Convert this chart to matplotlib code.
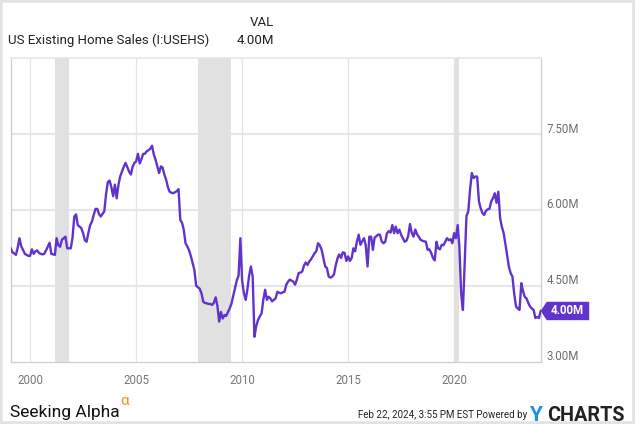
import numpy as np
import pandas as pd
import matplotlib
matplotlib.use("Agg")
import matplotlib.pyplot as plt
from matplotlib.patches import Polygon, Rectangle
from matplotlib.transforms import IdentityTransform, ScaledTranslation

plt.rcParams['font.family'] = ['Roboto', 'DejaVu Sans']

# ---- data (millions, SAAR), monthly Jan 1999 .. Jan 2024 ----
sales_1999 = [5.24, 5.16, 5.14, 5.11, 5.25, 5.44, 5.28, 5.21, 5.13, 5.11, 5.09, 5.09]
sales_2000 = [5.22, 5.13, 5.18, 5.20, 5.15, 5.13, 5.12, 5.13, 5.20, 5.27, 5.35, 5.13]
sales_2001 = [5.12, 5.11, 5.44, 5.30, 5.27, 5.41, 5.44, 5.47, 5.24, 5.24, 5.24, 5.45]
sales_2002 = [5.87, 5.91, 5.70, 5.67, 5.64, 5.54, 5.40, 5.37, 5.55, 5.70, 5.77, 5.90]
sales_2003 = [6.02, 6.02, 5.92, 5.87, 5.92, 5.97, 6.30, 6.55, 6.58, 6.45, 6.27, 6.50]
sales_2004 = [6.23, 6.50, 6.66, 6.76, 6.85, 6.93, 6.85, 6.76, 6.70, 6.85, 6.93, 6.96]
sales_2005 = [7.11, 6.92, 7.00, 7.11, 7.11, 7.16, 7.18, 7.21, 7.27, 7.10, 6.99, 6.86]
sales_2006 = [6.73, 6.86, 6.84, 6.70, 6.60, 6.45, 6.36, 6.34, 6.33, 6.35, 6.37, 6.41]
sales_2007 = [5.80, 5.74, 5.61, 5.34, 5.28, 5.20, 5.09, 4.95, 4.81, 4.50, 4.47, 4.44]
sales_2008 = [4.35, 4.18, 4.16, 4.15, 4.14, 4.14, 4.12, 4.16, 4.27, 4.10, 3.79, 3.98]
sales_2009 = [3.85, 3.92, 3.90, 3.98, 4.05, 4.15, 4.30, 4.45, 4.61, 4.70, 5.44, 4.60]
sales_2010 = [4.35, 4.22, 4.42, 4.70, 4.88, 4.68, 3.49, 3.70, 3.82, 3.89, 3.95, 4.22]
sales_2011 = [4.42, 4.22, 4.28, 4.25, 4.19, 4.22, 4.25, 4.38, 4.36, 4.35, 4.37, 4.38]
sales_2012 = [4.52, 4.58, 4.62, 4.60, 4.58, 4.52, 4.62, 4.75, 4.76, 4.78, 4.90, 4.96]
sales_2013 = [4.91, 4.98, 5.02, 5.08, 5.14, 5.18, 5.34, 5.30, 5.21, 5.05, 4.88, 4.85]
sales_2014 = [4.68, 4.66, 4.68, 4.72, 4.90, 5.04, 5.12, 5.05, 5.16, 5.15, 4.99, 5.08]
sales_2015 = [4.99, 5.05, 5.24, 5.18, 5.37, 5.51, 5.31, 5.38, 5.44, 5.30, 4.88, 5.47]
sales_2016 = [5.47, 5.21, 5.45, 5.48, 5.51, 5.51, 5.38, 5.34, 5.37, 5.54, 5.58, 5.55]
sales_2017 = [5.70, 5.54, 5.67, 5.54, 5.61, 5.51, 5.44, 5.37, 5.39, 5.48, 5.72, 5.55]
sales_2018 = [5.47, 5.61, 5.52, 5.47, 5.41, 5.39, 5.38, 5.37, 5.21, 5.22, 5.15, 5.05]
sales_2019 = [5.00, 5.37, 5.24, 5.22, 5.31, 5.30, 5.37, 5.44, 5.40, 5.42, 5.34, 5.54]
sales_2020 = [5.44, 5.70, 5.27, 4.33, 4.02, 4.95, 5.88, 5.97, 6.40, 6.73, 6.63, 6.66]
sales_2021 = [6.66, 6.17, 6.04, 5.94, 5.90, 5.98, 6.01, 6.02, 6.17, 6.23, 6.33, 6.14]
sales_2022 = [6.36, 5.84, 5.67, 5.55, 5.34, 5.10, 4.88, 4.75, 4.68, 4.35, 4.09, 4.05]
sales_2023 = [4.02, 4.55, 4.40, 4.28, 4.25, 4.16, 4.09, 4.05, 4.02, 3.86, 3.88, 3.86]
sales_2024 = [4.00]

recessions = [("2001-03-01", "2001-11-01"),
              ("2007-12-01", "2009-06-30"),
              ("2020-01-01", "2020-03-31")]
year_ticks = [2000, 2005, 2010, 2015, 2020]
value_ticks = [3.0, 4.5, 6.0, 7.5]

values = np.concatenate([sales_1999, sales_2000, sales_2001, sales_2002, sales_2003,
                         sales_2004, sales_2005, sales_2006, sales_2007, sales_2008,
                         sales_2009, sales_2010, sales_2011, sales_2012, sales_2013,
                         sales_2014, sales_2015, sales_2016, sales_2017, sales_2018,
                         sales_2019, sales_2020, sales_2021, sales_2022, sales_2023,
                         sales_2024])
dates = pd.date_range("1999-01-01", periods=len(values), freq="MS") + pd.Timedelta(days=30)

# ---- figure ----
W, H = 635, 424
DPI = 100
fig = plt.figure(figsize=(W / DPI, H / DPI), dpi=DPI)
fig.patch.set_facecolor("white")

def fx(x):
    return x / W

def fy(y):
    return 1 - y / H

purple = "#6233cc"
left, right, top, bottom = 10.7, 540.7, 58.3, 361.5
ax = fig.add_axes([fx(left), fy(bottom), fx(right) - fx(left), (bottom - top) / H])

for a, b in recessions:
    ax.axvspan(pd.Timestamp(a), pd.Timestamp(b), color="#e1e1e1", lw=0, zorder=1)

ax.plot(dates, values, color=purple, lw=1.7, zorder=3, solid_joinstyle="round")

ax.set_xlim(dates[0], dates[-1])
ax.set_ylim(3.0, 9.0)

# grid
for v in value_ticks[1:]:
    ax.axhline(v, color="#e6e6e6", lw=1.5, zorder=0)
for yr in year_ticks:
    ax.axvline(pd.Timestamp(f"{yr}-01-01"), color="#e4e4e4", lw=0.9, zorder=0)

for side in ["left", "bottom", "right"]:
    ax.spines[side].set_color("#cfcfcf")
    ax.spines[side].set_linewidth(0.9)
ax.spines["top"].set_color("#e6e6e6")
ax.spines["top"].set_linewidth(1.2)

ax.set_yticks([])
ax.set_xticks([pd.Timestamp(f"{yr}-01-01") for yr in year_ticks])
ax.set_xticklabels([str(yr) for yr in year_ticks])
ax.tick_params(axis="x", length=0, pad=9, labelsize=8.3, labelcolor="#777777")

# right value labels
off = ScaledTranslation(6 / DPI, 5 / DPI, fig.dpi_scale_trans)
for v in value_ticks:
    ax.text(1.0, v, f"{v:.2f}M", transform=ax.get_yaxis_transform() + off,
            ha="left", va="center", fontsize=8.3, color="#6e6e6e", clip_on=False)

# last value tag
x0 = ax.transAxes.transform((1.0, 0.0))[0]
y0 = ax.get_yaxis_transform().transform((1.0, values[-1]))[1]
hh = 9.2
verts = [(x0, y0), (x0 + 6, y0 + hh), (x0 + 48.5, y0 + hh), (x0 + 48.5, y0 - hh), (x0 + 6, y0 - hh)]
fig.add_artist(Polygon(verts, closed=True, transform=IdentityTransform(),
                       facecolor=purple, edgecolor="none", zorder=5))
fig.text((x0 + 27) / W, y0 / H, f"{values[-1]:.2f}M", ha="center", va="center",
         fontsize=8.3, fontweight="bold", color="white", zorder=6)

# header
fig.text(fx(8), fy(40), "US Existing Home Sales (I:USEHS)", ha="left", va="center",
         fontsize=9.5, color="#222222")
fig.text(fx(274.5), fy(23), "VAL", ha="right", va="center", fontsize=9.5, color="#222222")
fig.text(fx(274.5), fy(41), f"{values[-1]:.2f}M", ha="right", va="center",
         fontsize=9.5, color="#222222")

# footer
fig.text(fx(10), fy(417), "Seeking Alpha", ha="left", va="baseline",
         fontsize=12.5, color="#111111")
fig.text(fx(120), fy(405), "\u03b1", ha="left", va="baseline",
         fontsize=11, color="#ff8a1e")
fig.text(fx(527), fy(415.5), "Feb 22, 2024, 3:55 PM EST Powered by", ha="right", va="center",
         fontsize=7, color="#222222")
fig.text(fx(529.5), fy(415.5), "Y", ha="left", va="center", fontsize=15,
         fontweight="bold", color="#1f93e6")
fig.text(fx(547.5), fy(415.5), "CHARTS", ha="left", va="center", fontsize=14.3,
         fontweight="bold", color="#222222")

# outer border
fig.add_artist(Rectangle((0, 0), 1, 1, transform=fig.transFigure, fill=False,
                         edgecolor="#e3e3e3", lw=4, zorder=10))

fig.savefig("out.png", dpi=DPI, facecolor="white")
